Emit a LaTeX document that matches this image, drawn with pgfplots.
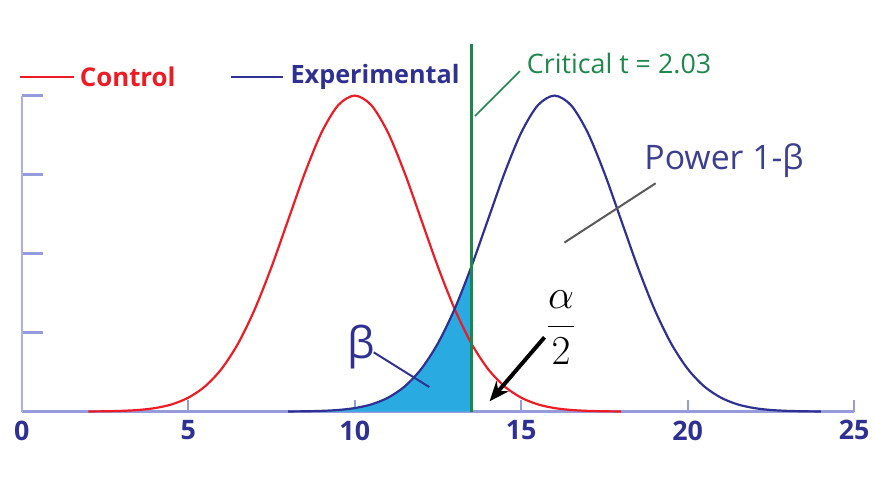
\documentclass[border=0pt]{standalone}
\usepackage{pgfplots}
\pgfplotsset{compat=1.18}
\usepackage{pgfplotstable}
\usepackage{fontspec}
\setmainfont{Open Sans}
\usetikzlibrary{arrows.meta}

\definecolor{ctrlred}{RGB}{237,28,36}
\definecolor{expblue}{RGB}{46,49,146}
\definecolor{critgreen}{RGB}{30,135,75}
\definecolor{betafill}{RGB}{41,171,226}
\definecolor{axlav}{RGB}{150,155,220}
\definecolor{ticknavy}{RGB}{46,49,146}
\definecolor{powertext}{RGB}{60,63,143}

% control group: sampling distribution centred on 10
\pgfplotstableread{
x y
2 0.0013
2.5 0.0035
3 0.0087
3.5 0.020
4 0.044
4.5 0.091
5 0.176
5.5 0.318
6 0.541
6.5 0.865
7 1.299
7.5 1.831
8 2.426
8.5 3.019
9 3.530
9.5 3.877
10 4.000
10.5 3.877
11 3.530
11.5 3.019
12 2.426
12.5 1.831
13 1.299
13.5 0.865
14 0.541
14.5 0.318
15 0.176
15.5 0.091
16 0.044
16.5 0.020
17 0.0087
17.5 0.0035
18 0.0013
}\controltab

% experimental group: sampling distribution centred on 16
\pgfplotstableread{
x y
8 0.0013
8.5 0.0035
9 0.0087
9.5 0.020
10 0.044
10.5 0.091
11 0.176
11.5 0.318
12 0.541
12.5 0.865
13 1.299
13.5 1.831
14 2.426
14.5 3.019
15 3.530
15.5 3.877
16 4.000
16.5 3.877
17 3.530
17.5 3.019
18 2.426
18.5 1.831
19 1.299
19.5 0.865
20 0.541
20.5 0.318
21 0.176
21.5 0.091
22 0.044
22.5 0.020
23 0.0087
23.5 0.0035
24 0.0013
}\exptab

\begin{document}
\begin{tikzpicture}
\begin{axis}[
  scale only axis,
  width=418.75pt, height=159pt,
  xmin=0, xmax=25, ymin=0, ymax=4,
  clip=false,
  axis x line=bottom, axis y line=left,
  axis line style={-},
  x axis line style={draw=axlav, line width=1.2pt},
  y axis line style={draw=axlav!80, line width=1.2pt},
  xtick={0,5,10,15,20,25},
  ytick={1,2,3,4},
  yticklabels={},
  tick align=inside,
  major tick length=6pt,
  xtick style={draw=axlav, line width=1pt},
  ytick style={draw=axlav, line width=1.2pt, /pgfplots/major tick length=10.5pt},
  /pgf/number format/assume math mode=true,
  xticklabel style={font=\fontsize{13.5}{16}\selectfont\bfseries, text=ticknavy, yshift=-1pt},
]

% beta region: experimental curve left of the critical value
\addplot[draw=none, fill=betafill, restrict x to domain=8:13.5]
  table[x=x, y=y] {\exptab} \closedcycle;

\addplot[ctrlred, line width=1.1pt, smooth] table[x=x, y=y] {\controltab};
\addplot[expblue, line width=1.1pt, smooth] table[x=x, y=y] {\exptab};

% critical value
\draw[critgreen, line width=1.6pt] (axis cs:13.5,0) -- (axis cs:13.5,4.65);
\draw[critgreen, line width=0.8pt] (axis cs:13.61,3.74) -- (axis cs:14.96,4.31);
\node[anchor=west, text=critgreen, font=\fontsize{13.5}{15}\selectfont, inner sep=0pt]
  at (axis cs:15.16,4.40) {Critical t = 2.03};

% legend
\draw[ctrlred, line width=1pt] (axis cs:-0.06,4.24) -- (axis cs:1.58,4.24);
\node[anchor=west, text=ctrlred, font=\fontsize{13}{15}\selectfont\bfseries, inner sep=0pt]
  at (axis cs:1.73,4.24) {Control};
\draw[expblue, line width=1pt] (axis cs:6.27,4.24) -- (axis cs:7.85,4.24);
\node[anchor=west, text=expblue, font=\fontsize{12.7}{15}\selectfont\bfseries, inner sep=0pt]
  at (axis cs:8.06,4.24) {Experimental};

% power label
\draw[black!65, line width=1pt] (axis cs:19.04,2.89) -- (axis cs:16.3,2.14);
\node[anchor=west, text=powertext, font=\fontsize{17}{19}\selectfont, inner sep=0pt]
  at (axis cs:18.69,3.18) {Power 1-β};

% beta label
\draw[expblue, line width=1pt] (axis cs:10.57,0.75) -- (axis cs:12.24,0.31);
\node[text=expblue, font=\fontsize{22}{24}\selectfont, inner sep=0pt]
  at (axis cs:10.18,0.82) {β};

% alpha/2 label
\node[text=black, font=\fontsize{22}{24}\selectfont, inner sep=0pt]
  at (axis cs:16.2,1.06) {$\displaystyle\frac{\alpha}{2}$};
\draw[black, line width=2pt, -{Stealth[length=10pt, width=8pt]}]
  (axis cs:15.7,0.94) -- (axis cs:14.05,0.13);

% picture extent
\path (axis cs:-0.657,-0.943) rectangle (axis cs:25.49,5.21);
\end{axis}
\end{tikzpicture}
\end{document}
